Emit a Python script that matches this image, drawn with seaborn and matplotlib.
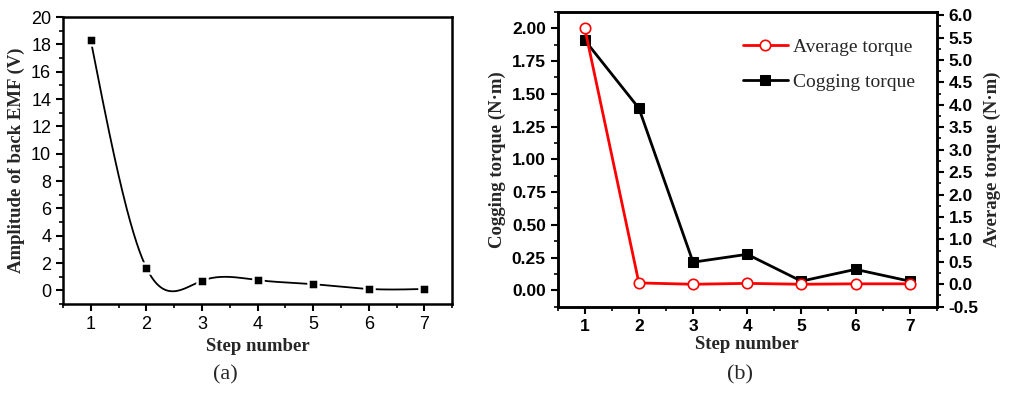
import numpy as np
import pandas as pd
import matplotlib
matplotlib.use("Agg")
import matplotlib.pyplot as plt
import seaborn as sns
from matplotlib.ticker import MultipleLocator, FormatStrFormatter

steps = [1, 2, 3, 4, 5, 6, 7]
back_emf = [18.3, 1.65, 0.7, 0.75, 0.45, 0.1, 0.1]
cogging = [1.91, 1.39, 0.215, 0.275, 0.07, 0.16, 0.07]
average = [5.71, 0.03, 0.0, 0.02, 0.0, 0.01, 0.01]

sns.set_theme(style="white")
plt.rcParams["font.family"] = ["Liberation Sans", "DejaVu Sans"]
serif = ["Liberation Serif", "DejaVu Serif"]


def natural_spline(x, y, n=400):
    # natural cubic spline through the data points (Origin-style smooth line)
    x = np.asarray(x, float)
    y = np.asarray(y, float)
    k = len(x)
    h = np.diff(x)
    A = np.zeros((k, k))
    b = np.zeros(k)
    A[0, 0] = A[-1, -1] = 1
    for i in range(1, k - 1):
        A[i, i - 1] = h[i - 1]
        A[i, i] = 2 * (h[i - 1] + h[i])
        A[i, i + 1] = h[i]
        b[i] = 3 * ((y[i + 1] - y[i]) / h[i] - (y[i] - y[i - 1]) / h[i - 1])
    c = np.linalg.solve(A, b)
    xs = np.linspace(x[0], x[-1], n)
    idx = np.clip(np.searchsorted(x, xs) - 1, 0, k - 2)
    dx = xs - x[idx]
    bb = (y[idx + 1] - y[idx]) / h[idx] - h[idx] * (2 * c[idx] + c[idx + 1]) / 3
    dd = (c[idx + 1] - c[idx]) / (3 * h[idx])
    ys = y[idx] + bb * dx + c[idx] * dx ** 2 + dd * dx ** 3
    return xs, ys


def style_axis(ax, lw=1.8):
    for s in ax.spines.values():
        s.set_linewidth(lw)
        s.set_color("black")
    ax.tick_params(which="major", direction="out", length=5, width=1.5,
                   colors="black", labelsize=12.5)
    ax.tick_params(which="minor", direction="out", length=3, width=1.2,
                   colors="black")


fig = plt.figure(figsize=(10.24, 3.93), dpi=100)

# ---------- panel (a) ----------
ax1 = fig.add_axes([0.0615, 0.2265, 0.38, 0.730])
xs, ys = natural_spline(steps, back_emf)
sns.lineplot(x=xs, y=ys, ax=ax1, color="black", linewidth=1.3, sort=False)
sns.scatterplot(x=steps, y=back_emf, ax=ax1, marker="s", s=55, color="black",
                edgecolor="white", linewidth=1.8, zorder=5)
ax1.set_xlim(0.5, 7.5)
ax1.set_ylim(-1, 20)
ax1.xaxis.set_major_locator(MultipleLocator(1))
ax1.xaxis.set_minor_locator(MultipleLocator(0.5))
ax1.yaxis.set_major_locator(MultipleLocator(2))
ax1.yaxis.set_minor_locator(MultipleLocator(1))
style_axis(ax1)
ax1.tick_params(which="both", bottom=True, left=True, top=False, right=False)
ax1.tick_params(labelsize=13)
ax1.set_xlabel("Step number", fontfamily=serif, fontweight="bold", fontsize=13.5, labelpad=4)
ax1.set_ylabel("Amplitude of back EMF (V)", fontfamily=serif, fontweight="bold", fontsize=13.5, labelpad=4)
fig.text(0.22, 0.035, "(a)", fontfamily=serif, fontsize=16, ha="center")

# ---------- panel (b) ----------
ax2 = fig.add_axes([0.5446, 0.2196, 0.3702, 0.7499])
ax3 = ax2.twinx()
sns.lineplot(x=steps, y=cogging, ax=ax2, color="black", linewidth=2,
             marker="s", markersize=7, markerfacecolor="black",
             markeredgecolor="black", label="Cogging torque", legend=False)
sns.lineplot(x=steps, y=average, ax=ax3, color="red", linewidth=2,
             marker="o", markersize=7.5, markerfacecolor="white",
             markeredgecolor="red", markeredgewidth=1.2,
             label="Average torque", legend=False)
ax2.set_xlim(0.5, 7.5)
ax2.set_ylim(-0.125, 2.125)
ax3.set_ylim(-0.5, 6.07)
ax2.xaxis.set_major_locator(MultipleLocator(1))
ax2.xaxis.set_minor_locator(MultipleLocator(0.5))
ax2.yaxis.set_major_locator(MultipleLocator(0.25))
ax2.yaxis.set_minor_locator(MultipleLocator(0.125))
ax2.yaxis.set_major_formatter(FormatStrFormatter("%.2f"))
ax3.yaxis.set_major_locator(MultipleLocator(0.5))
ax3.yaxis.set_minor_locator(MultipleLocator(0.25))
ax3.yaxis.set_major_formatter(FormatStrFormatter("%.1f"))
style_axis(ax2)
style_axis(ax3)
ax2.tick_params(which="both", bottom=True, left=True, top=False, right=False)
ax3.tick_params(which="both", right=True, left=False)
for lab in ax2.get_xticklabels() + ax2.get_yticklabels() + ax3.get_yticklabels():
    lab.set_fontweight("bold")
ax2.set_xlabel("Step number", fontfamily=serif, fontweight="bold", fontsize=13.5, labelpad=2)
ax2.set_ylabel("Cogging torque (N·m)", fontfamily=serif, fontweight="bold", fontsize=13.5, labelpad=4)
ax3.set_ylabel("Average torque (N·m)", fontfamily=serif, fontweight="bold", fontsize=13.5,
               rotation=90, labelpad=4)

h3, l3 = ax3.get_legend_handles_labels()
h2, l2 = ax2.get_legend_handles_labels()
ax3.legend(h3 + h2, l3 + l2, loc="upper right", frameon=False,
           prop={"family": serif, "size": 14}, handlelength=2.3,
           handletextpad=0.3, labelspacing=0.9, bbox_to_anchor=(0.99, 0.97))
fig.text(0.723, 0.035, "(b)", fontfamily=serif, fontsize=16, ha="center")

fig.savefig("out.png", dpi=100)
